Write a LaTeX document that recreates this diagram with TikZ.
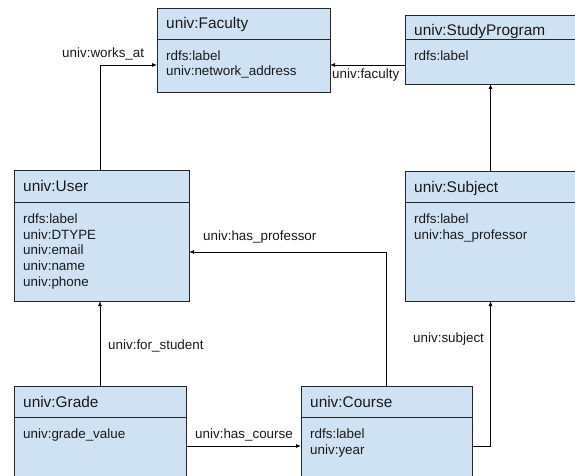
\documentclass[tikz,border=0pt]{standalone}
\usepackage{fontspec}
\setmainfont{Liberation Sans}
\usetikzlibrary{arrows.meta}
\definecolor{boxblue}{HTML}{CFE2F3}
\newcommand\umlbox[8]{%
  \node[cls, minimum width=#4pt, minimum height=#5pt] (#1) at (#2,#3) {};
  \draw[divline] ([yshift=-#6pt]#1.north west) -- ([yshift=-#6pt]#1.north east);
  \node[title] (#1-t) at ([xshift=9pt,yshift=-21pt]#1.north west) {#7};
  \node[attrs] (#1-a) at ([xshift=9pt,yshift=-#6pt-11pt]#1.north west) {\rule{0pt}{10pt}#8};
}
\begin{document}
\begin{tikzpicture}[x=1pt,y=-1pt,
  cls/.style={draw=black!85, fill=boxblue, line width=0.9pt, rectangle, anchor=north west, inner sep=0pt, outer sep=0pt},
  divline/.style={draw=black!85, line width=0.9pt},
  title/.style={anchor=base west, inner sep=0pt, font=\fontsize{15.4}{18}\selectfont, text=black!90},
  attrs/.style={anchor=north west, inner sep=0pt, align=left, font=\fontsize{13.4}{15.8}\selectfont, text=black!90},
  lbl/.style={anchor=base west, inner sep=0pt, font=\fontsize{13.4}{15.8}\selectfont, text=black!90},
  arr/.style={draw=black, line width=0.9pt, -{Latex[length=5pt,width=4pt]}},
]
\useasboundingbox (0,0) rectangle (575,476);
\clip (0,0) rectangle (575,476);
\fill[white] (0,0) rectangle (575,476);

\umlbox{fac}{157}{8}{173}{84}{31}{univ:Faculty}{rdfs:label\\univ:network\_address}
\umlbox{sp}{405}{15}{171}{69}{24}{univ:StudyProgram}{rdfs:label}
\umlbox{user}{14}{170}{175}{131}{32}{univ:User}{rdfs:label\\univ:DTYPE\\univ:email\\univ:name\\univ:phone}
\umlbox{subj}{405}{171}{171}{130}{31}{univ:Subject}{rdfs:label\\univ:has\_professor}
\umlbox{grade}{14}{386}{172}{120}{31}{univ:Grade}{univ:grade\_value}
\umlbox{course}{301}{386}{171}{120}{31}{univ:Course}{rdfs:label\\univ:year}

\coordinate (f65) at ([yshift=-15pt]fac.east);
\draw[arr] ([xshift=-1.5pt]user.north) |- ([yshift=-15pt]fac.west);
\draw[arr] (sp.west |- f65) -- (f65);
\draw[arr] (subj.north) -- (sp.south);
\draw[arr] (course.north) |- ([yshift=-16.5pt]user.east);
\draw[arr] (grade.north) -- (grade.north |- user.south);
\draw[arr] (grade.east) -- (course.west);
\draw[arr] (course.east) -| (subj.south);

\node[lbl] (l-works) at (62,58) {univ:works\_at};
\node[lbl] (l-fac) at (332,79) {univ:faculty};
\node[lbl] (l-prof) at (203,240) {univ:has\_professor};
\node[lbl] (l-stud) at (108,349) {univ:for\_student};
\node[lbl] (l-course) at (195,438) {univ:has\_course};
\node[lbl] (l-subj) at (413,342) {univ:subject};
\end{tikzpicture}
\end{document}
